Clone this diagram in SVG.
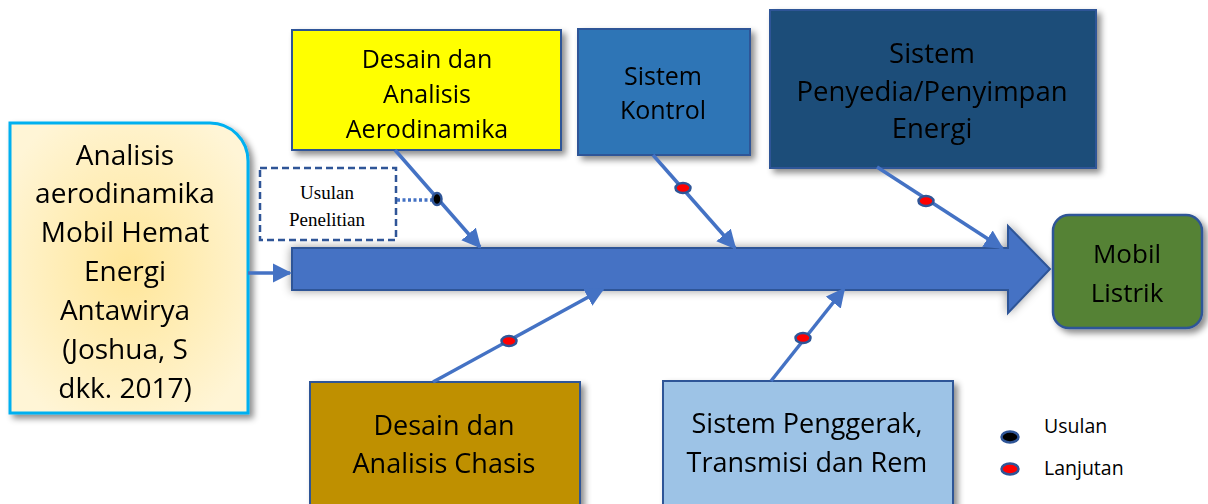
<svg xmlns="http://www.w3.org/2000/svg" width="1208" height="504" viewBox="0 0 1208 504">
  <style>
    .t { font-family: "Open Sans", "Noto Sans", "Liberation Sans", sans-serif; fill: #000; text-anchor: middle; }
    .box { stroke: #2F5597; stroke-width: 2; }
    .con { stroke: #4472C4; stroke-width: 3.5; fill: none; }
    .dotR { fill: #FF0000; stroke: #2F5597; stroke-width: 2.5; }
    .dotB { fill: #000; stroke: #2F5597; stroke-width: 2.5; }
    .serif { font-family: "Liberation Serif", "Times New Roman", serif; fill: #000; text-anchor: middle; }
    .leg { font-family: "Open Sans", "Noto Sans", "Liberation Sans", sans-serif; fill: #000; }
  </style>
  <defs>
    <filter id="sh" x="-10%" y="-10%" width="130%" height="130%">
      <feDropShadow dx="4" dy="4" stdDeviation="3" flood-color="#000" flood-opacity="0.45"/>
    </filter>
    <filter id="sh2" x="-5%" y="-40%" width="110%" height="180%">
      <feDropShadow dx="0" dy="0" stdDeviation="5" flood-color="#000" flood-opacity="0.4"/>
    </filter>
    <radialGradient id="lg" cx="50%" cy="50%" r="60%">
      <stop offset="0" stop-color="#FFE699"/>
      <stop offset="1" stop-color="#FFF5D6"/>
    </radialGradient>
    <marker id="ah" viewBox="0 0 10 10" refX="9" refY="5" markerWidth="5.5" markerHeight="5.5" orient="auto" markerUnits="strokeWidth">
      <path d="M0,0 L10,5 L0,10 Z" fill="#4472C4"/>
    </marker>
  </defs>

  <!-- Main spine arrow -->
  <g id="spine" filter="url(#sh2)">
    <path d="M292,248 H1008 V226 L1050,269 L1008,313 V290 H292 Z" fill="#4472C4" stroke="#2F5597" stroke-width="2"/>
  </g>

  <!-- Left source node -->
  <g id="node-source" filter="url(#sh)">
    <path d="M10,123 H210 A38,38 0 0 1 248,161 V413 H10 Z" fill="url(#lg)" stroke="#00B0F0" stroke-width="3"/>
    <text class="t" font-size="28" x="125" y="165">Analisis</text>
    <text class="t" font-size="28" x="125" y="203">aerodinamika</text>
    <text class="t" font-size="28" x="125" y="242">Mobil Hemat</text>
    <text class="t" font-size="28" x="125" y="281">Energi</text>
    <text class="t" font-size="28" x="125" y="320">Antawirya</text>
    <text class="t" font-size="28" x="125" y="359">(Joshua, S</text>
    <text class="t" font-size="28" x="125" y="398">dkk. 2017)</text>
  </g>

  <!-- Top boxes -->
  <g id="node-aero" filter="url(#sh)">
    <rect class="box" x="292" y="30" width="269" height="120" fill="#FFFF00"/>
    <text class="t" font-size="25" x="427" y="68">Desain dan</text>
    <text class="t" font-size="25" x="427" y="103">Analisis</text>
    <text class="t" font-size="25" x="427" y="138">Aerodinamika</text>
  </g>

  <g id="node-kontrol" filter="url(#sh)">
    <rect class="box" x="578" y="29" width="172" height="126" fill="#2E75B6"/>
    <text class="t" font-size="25" x="663" y="85">Sistem</text>
    <text class="t" font-size="25" x="663" y="119">Kontrol</text>
  </g>

  <g id="node-energi" filter="url(#sh)">
    <rect class="box" x="770" y="10" width="326" height="158" fill="#1F4E79"/>
    <text class="t" font-size="27.5" x="932" y="63">Sistem</text>
    <text class="t" font-size="27.5" x="932" y="101">Penyedia/Penyimpan</text>
    <text class="t" font-size="27.5" x="932" y="138">Energi</text>
  </g>

  <!-- Bottom boxes -->
  <g id="node-chasis" filter="url(#sh)">
    <rect class="box" x="310" y="382" width="270" height="130" fill="#BF9000"/>
    <text class="t" font-size="27" x="444" y="435">Desain dan</text>
    <text class="t" font-size="27" x="444" y="473">Analisis Chasis</text>
  </g>

  <g id="node-penggerak" filter="url(#sh)">
    <rect class="box" x="663" y="381" width="290" height="130" fill="#9DC3E6"/>
    <text class="t" font-size="27" x="807" y="433">Sistem Penggerak,</text>
    <text class="t" font-size="27" x="807" y="472">Transmisi dan Rem</text>
  </g>

  <!-- Target node -->
  <g id="node-mobil" filter="url(#sh)">
    <rect x="1053" y="215" width="149" height="113" rx="16" fill="#548235" stroke="#2F5597" stroke-width="2.5"/>
    <text class="t" font-size="26" x="1127" y="263">Mobil</text>
    <text class="t" font-size="26" x="1127" y="302">Listrik</text>
  </g>

  <!-- Usulan Penelitian note -->
  <g id="node-usulan">
    <rect x="260" y="168" width="136" height="72" fill="#FFFFFF" stroke="#2F5597" stroke-width="2.5" stroke-dasharray="7 4"/>
    <text class="serif" font-size="19" x="327" y="199">Usulan</text>
    <text class="serif" font-size="19" x="327" y="226">Penelitian</text>
  </g>

  <!-- Connectors -->
  <g id="connectors">
    <line class="con" x1="248" y1="273" x2="290" y2="273" marker-end="url(#ah)"/>
    <line class="con" x1="395" y1="150" x2="480" y2="247" marker-end="url(#ah)"/>
    <line class="con" x1="653" y1="155" x2="735" y2="248" marker-end="url(#ah)"/>
    <line class="con" x1="877" y1="167" x2="1002" y2="248" marker-end="url(#ah)"/>
    <line class="con" x1="433" y1="382" x2="603" y2="289" marker-end="url(#ah)"/>
    <line class="con" x1="771" y1="381" x2="844" y2="289" marker-end="url(#ah)"/>
    <line x1="397" y1="200" x2="432" y2="200" stroke="#4472C4" stroke-width="3.5" stroke-dasharray="3 2.5"/>
    <ellipse class="dotB" cx="437" cy="199" rx="4.5" ry="6"/>
    <ellipse class="dotR" cx="683" cy="188" rx="7.5" ry="5"/>
    <ellipse class="dotR" cx="926" cy="201" rx="7.5" ry="5"/>
    <ellipse class="dotR" cx="509" cy="341" rx="7.5" ry="5"/>
    <ellipse class="dotR" cx="803" cy="338" rx="7.5" ry="5"/>
  </g>

  <!-- Legend -->
  <g id="legend">
    <ellipse class="dotB" cx="1010" cy="437" rx="8.5" ry="5.5"/>
    <text class="leg" x="1044" y="433" font-size="19.5">Usulan</text>
    <ellipse class="dotR" cx="1010" cy="469" rx="8.5" ry="5.5"/>
    <text class="leg" x="1044" y="475" font-size="19.5">Lanjutan</text>
  </g>
</svg>
